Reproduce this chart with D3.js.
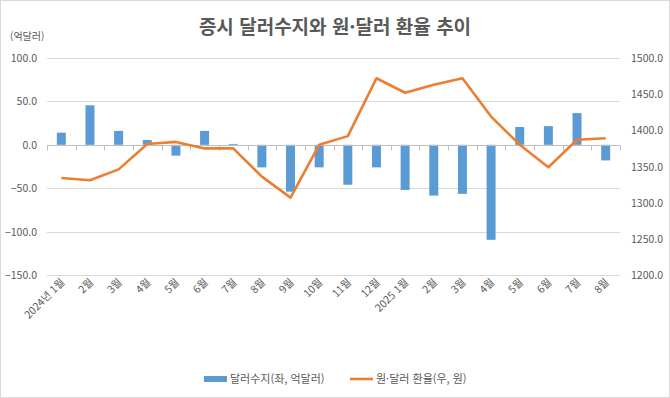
<!DOCTYPE html>
<html lang="ko">
<head>
<meta charset="utf-8">
<title>증시 달러수지와 원·달러 환율 추이</title>
<script src="https://cdn.jsdelivr.net/npm/d3@7"></script>
<style>
  body { margin: 0; background: #fff; }
  svg { display: block; font-family: "Noto Sans CJK KR", "Noto Sans", sans-serif; }
</style>
</head>
<body>
<div id="canvas"></div>
<script>
const months = ["2024년 1월","2월","3월","4월","5월","6월","7월","8월","9월","10월","11월","12월",
                "2025 1월","2월","3월","4월","5월","6월","7월","8월"]
const balance = [14, 45.5, 16, 5.5, -12.5, 16, 1, -26, -54, -26, -46, -26,
                 -52, -58.5, -56.5, -109.5, 20.5, 21.5, 36.5, -18]
const fxRate = [1334, 1331, 1346, 1381, 1384, 1375, 1375, 1336, 1307, 1380, 1392, 1472,
                1452, 1463, 1472, 1419, 1380, 1349, 1387, 1389]
const leftTicks = [100, 50, 0, -50, -100, -150]
const rightTicks = [1500, 1450, 1400, 1350, 1300, 1250, 1200]

const width = 670, height = 398
const x0 = 47, x1 = 620, yTop = 58, yBot = 275
const grey = "#595959"

const svg = d3.select("#canvas").append("svg")
  .attr("width", width).attr("height", height)

svg.append("rect")
  .attr("x", 0.5).attr("y", 0.5).attr("width", width - 1).attr("height", height - 1)
  .attr("fill", "#fff").attr("stroke", "#d9d9d9")

const keys = months.map((m, i) => i)
const x = d3.scaleBand().domain(keys).range([x0, x1])
const yL = d3.scaleLinear().domain([-150, 100]).range([yBot, yTop])
const yR = d3.scaleLinear().domain([1200, 1500]).range([yBot, yTop])

// gridlines
svg.append("g").selectAll("line")
  .data(leftTicks.filter(d => d !== 0))
  .join("line")
    .attr("x1", x0).attr("x2", x1)
    .attr("y1", d => Math.round(yL(d)) + 0.5).attr("y2", d => Math.round(yL(d)) + 0.5)
    .attr("stroke", "#d9d9d9")

// left axis labels
svg.append("g").selectAll("text")
  .data(leftTicks)
  .join("text")
    .attr("x", 37).attr("y", d => yL(d) + 4)
    .attr("text-anchor", "end")
    .attr("font-size", 10.5).attr("fill", grey)
    .text(d => d3.format(".1f")(d))

// right axis labels
svg.append("g").selectAll("text")
  .data(rightTicks)
  .join("text")
    .attr("x", 631).attr("y", d => yR(d) + 4)
    .attr("font-size", 10.5).attr("fill", grey)
    .text(d => d3.format(".1f")(d))

// bars
svg.append("g").selectAll("rect")
  .data(balance)
  .join("rect")
    .attr("x", (d, i) => x(i) + x.bandwidth() / 2 - 4.5)
    .attr("width", 9)
    .attr("y", d => yL(Math.max(0, d)))
    .attr("height", d => Math.abs(yL(d) - yL(0)))
    .attr("fill", "#5b9bd5")

// zero axis with category ticks
const zy = Math.round(yL(0)) + 0.5
svg.append("line")
  .attr("x1", x0).attr("x2", x1).attr("y1", zy).attr("y2", zy)
  .attr("stroke", "#bfbfbf")
svg.append("g").selectAll("line")
  .data(keys.concat([months.length]))
  .join("line")
    .attr("x1", d => Math.round(x0 + d * x.step()) + 0.5)
    .attr("x2", d => Math.round(x0 + d * x.step()) + 0.5)
    .attr("y1", zy).attr("y2", zy + 5)
    .attr("stroke", "#bfbfbf")

// line
const line = d3.line()
  .x((d, i) => x(i) + x.bandwidth() / 2)
  .y(d => yR(d))
svg.append("path")
  .datum(fxRate)
  .attr("d", line)
  .attr("fill", "none")
  .attr("stroke", "#ed7d31")
  .attr("stroke-width", 2.6)
  .attr("stroke-linejoin", "round")

// x labels
svg.append("g").selectAll("text")
  .data(months)
  .join("text")
    .attr("transform", (d, i) => `translate(${x(i) + x.bandwidth() / 2 + 4},${283}) rotate(-45)`)
    .attr("text-anchor", "end")
    .attr("font-size", 10.5).attr("fill", grey)
    .text(d => d)

// title
svg.append("text")
  .attr("x", 335).attr("y", 34)
  .attr("text-anchor", "middle")
  .attr("font-size", 19).attr("font-weight", "bold").attr("fill", grey)
  .text("증시 달러수지와 원·달러 환율 추이")

svg.append("text")
  .attr("x", 10).attr("y", 40)
  .attr("font-size", 10).attr("fill", grey)
  .text("(억달러)")

// legend
const legend = svg.append("g")
legend.append("rect")
  .attr("x", 204).attr("y", 376).attr("width", 23).attr("height", 6)
  .attr("fill", "#5b9bd5")
legend.append("text")
  .attr("x", 230).attr("y", 383)
  .attr("font-size", 11).attr("fill", grey)
  .text("달러수지(좌, 억달러)")
legend.append("line")
  .attr("x1", 350).attr("x2", 373).attr("y1", 379).attr("y2", 379)
  .attr("stroke", "#ed7d31").attr("stroke-width", 2.6)
legend.append("text")
  .attr("x", 376).attr("y", 383)
  .attr("font-size", 11).attr("fill", grey)
  .text("원·달러 환율(우, 원)")
</script>
</body>
</html>
